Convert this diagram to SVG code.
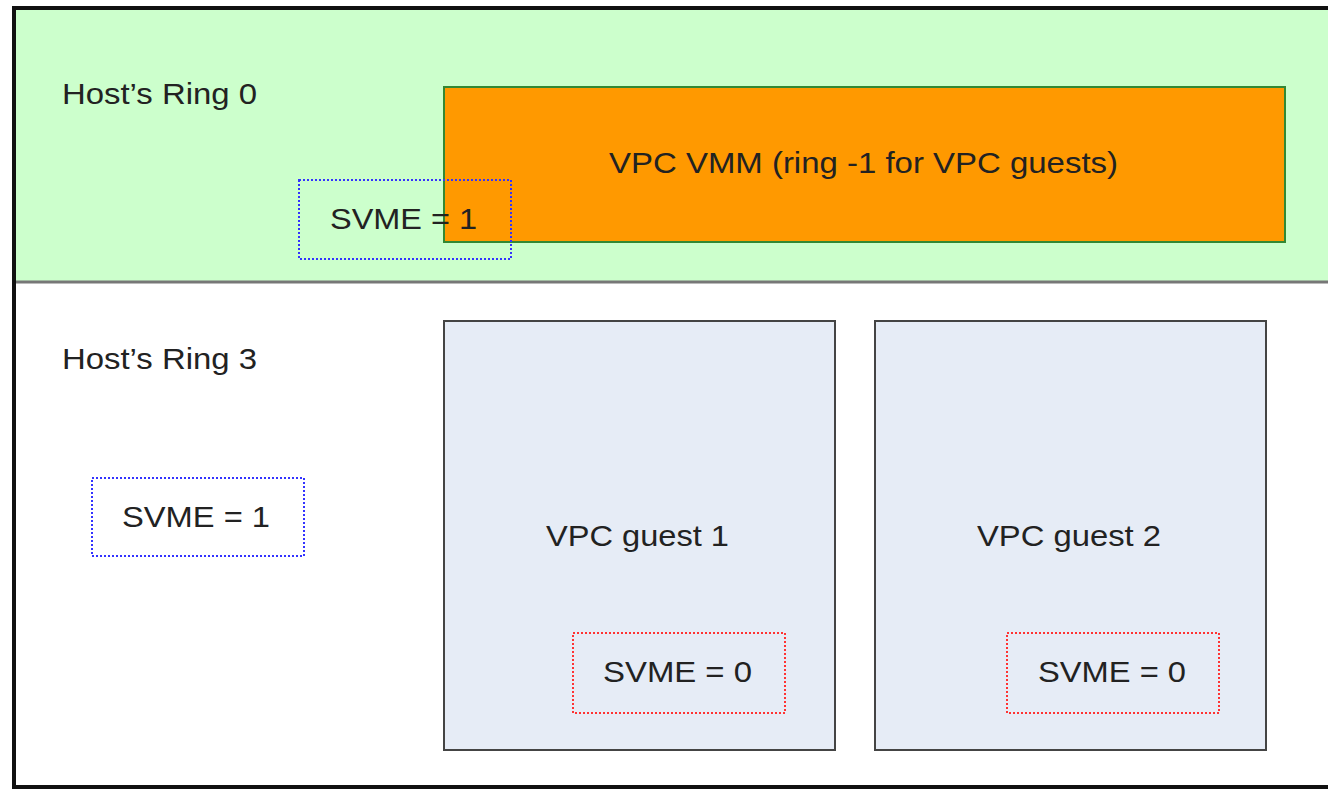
<svg xmlns="http://www.w3.org/2000/svg" width="1328" height="789" viewBox="0 0 1328 789">
<style>
text{font-family:"Liberation Sans",Arial,sans-serif;font-size:30px;fill:#222}
.blue{fill:none;stroke:#3333ff;stroke-width:2;stroke-dasharray:2 2}
.red{fill:none;stroke:#ff3333;stroke-width:2;stroke-dasharray:2 2}
.guest{fill:#e6ecf6;stroke:#444;stroke-width:2}
</style>
<rect x="0" y="0" width="1328" height="789" fill="#fff"/>
<g id="ring0">
<rect x="14" y="8" width="1330" height="274" fill="#ccffcc"/>
<line x1="14" y1="282" x2="1328" y2="282" stroke="#777" stroke-width="3"/>
<text x="62" y="104" textLength="195" lengthAdjust="spacingAndGlyphs">Host’s Ring 0</text>
</g>
<g id="ring3">
<text x="62" y="369" textLength="195" lengthAdjust="spacingAndGlyphs">Host’s Ring 3</text>
</g>
<g id="frame">
<path d="M1330 8 H14 V787 H1330" fill="none" stroke="#111" stroke-width="4"/>
</g>
<g id="vmm">
<rect x="444" y="87" width="841" height="155" fill="#ff9900" stroke="#338833" stroke-width="2"/>
<text x="609" y="173" textLength="509" lengthAdjust="spacingAndGlyphs">VPC VMM (ring -1 for VPC guests)</text>
</g>
<g id="svme-host0">
<rect x="299" y="180" width="212" height="79" class="blue"/>
<text x="330" y="229" textLength="147" lengthAdjust="spacingAndGlyphs">SVME = 1</text>
</g>
<g id="svme-host3">
<rect x="92" y="478" width="212" height="78" class="blue"/>
<text x="122" y="527" textLength="148" lengthAdjust="spacingAndGlyphs">SVME = 1</text>
</g>
<g id="guest1">
<rect x="444" y="321" width="391" height="429" class="guest"/>
<text x="546" y="546" textLength="183" lengthAdjust="spacingAndGlyphs">VPC guest 1</text>
<rect x="573" y="633" width="212" height="80" class="red"/>
<text x="603" y="682" textLength="149" lengthAdjust="spacingAndGlyphs">SVME = 0</text>
</g>
<g id="guest2">
<rect x="875" y="321" width="391" height="429" class="guest"/>
<text x="977" y="546" textLength="184" lengthAdjust="spacingAndGlyphs">VPC guest 2</text>
<rect x="1007" y="633" width="212" height="80" class="red"/>
<text x="1038" y="682" textLength="148" lengthAdjust="spacingAndGlyphs">SVME = 0</text>
</g>
<g id="connectors"/>
</svg>
